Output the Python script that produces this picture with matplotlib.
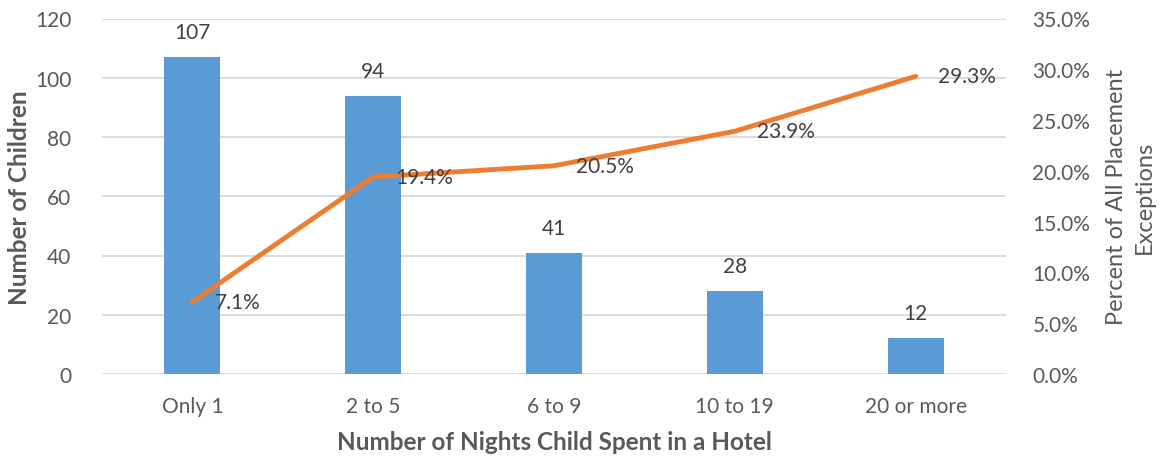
import matplotlib
matplotlib.use("Agg")
import matplotlib.pyplot as plt
from matplotlib.ticker import PercentFormatter

# Data
categories = ["Only 1", "2 to 5", "6 to 9", "10 to 19", "20 or more"]
children = [107, 94, 41, 28, 12]
pct_exceptions = [7.1, 19.4, 20.5, 23.9, 29.3]

BLUE = "#5B9BD5"
ORANGE = "#ED7D31"
GRID = "#D9D9D9"
TICK = "#595959"
LABEL = "#404040"

plt.rcParams["font.family"] = ["Lato", "DejaVu Sans"]

fig = plt.figure(figsize=(11.63, 4.6), dpi=100)
ax = fig.add_axes([102 / 1163, 1 - 375 / 460, (1006 - 102) / 1163, (375 - 19.5) / 460])
x = range(len(categories))

ax.bar(x, children, width=0.31, color=BLUE, zorder=2)
ax.set_xlim(-0.5, len(categories) - 0.5)
ax.set_ylim(0, 120)
ax.set_yticks(range(0, 121, 20))
ax.set_xticks(list(x))
ax.set_xticklabels(categories)
ax.yaxis.grid(True, color=GRID, linewidth=1.3, zorder=0)
ax.set_axisbelow(True)
for s in ax.spines.values():
    s.set_visible(False)
ax.tick_params(length=0, labelsize=15, colors=TICK)
ax.tick_params(axis="y", pad=22)
ax.tick_params(axis="x", pad=16)

ax.set_ylabel("Number of Children", fontsize=17.5, fontweight="bold", color=TICK)
ax.yaxis.label.set_va("center")
ax.yaxis.set_label_coords((20 - 102) / 904, 0.5)
ax.set_xlabel("Number of Nights Child Spent in a Hotel", fontsize=17.5, fontweight="bold",
              color=TICK)
ax.xaxis.label.set_va("center")
ax.xaxis.set_label_coords(0.5, -(443 - 375) / 355.5)

for xi, v in zip(x, children):
    ax.annotate(str(v), (xi, v), xytext=(0, 18), textcoords="offset points",
                ha="center", va="center", fontsize=15, color=LABEL)

ax2 = ax.twinx()
ax2.plot(list(x), pct_exceptions, color=ORANGE, linewidth=3.5, solid_capstyle="round", zorder=3)
ax2.set_ylim(0, 35)
ax2.set_yticks([0, 5, 10, 15, 20, 25, 30, 35])
ax2.yaxis.set_major_formatter(PercentFormatter(decimals=1))
for s in ax2.spines.values():
    s.set_visible(False)
ax2.tick_params(length=0, labelsize=15, colors=TICK, pad=19)
ax2.set_ylabel("Percent of All Placement\nExceptions", fontsize=17, color=TICK,
               linespacing=1.4)
ax2.yaxis.label.set_va("center")
ax2.yaxis.set_label_coords((1130 - 102) / 904, 0.5)

for xi, v in zip(x, pct_exceptions):
    ax2.annotate(f"{v:.1f}%", (xi, v), xytext=(16, 0), textcoords="offset points",
                 ha="left", va="center", fontsize=15, color=LABEL)

fig.savefig("out.png", dpi=100)
